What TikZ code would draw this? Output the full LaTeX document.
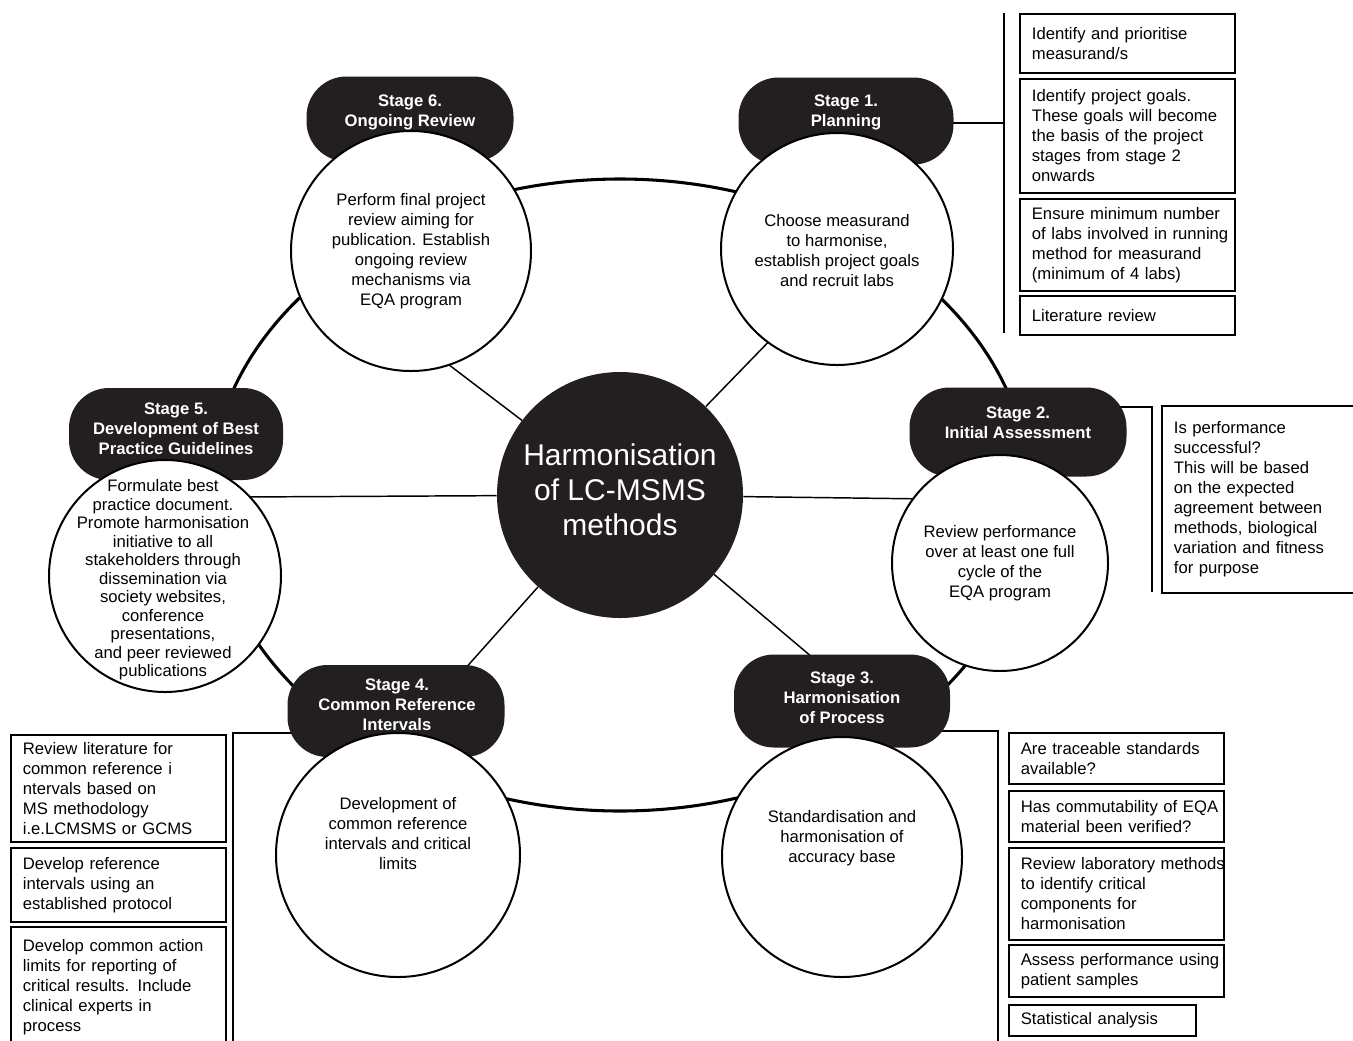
\documentclass[tikz,border=0pt]{standalone}
\usepackage{fontspec}
\setmainfont{Liberation Sans}
\usetikzlibrary{backgrounds}
\definecolor{ink}{RGB}{35,31,32}
\newdimen\px \px=0.75pt

\begin{document}
\begin{tikzpicture}[x=0.75pt, y=-0.75pt]
\tikzstyle{hub}=[circle, fill=ink, inner sep=0pt]
\tikzstyle{hubtext}=[text=white, align=center, inner sep=0pt, font=\fontsize{22.5}{26.25}\selectfont]
\tikzstyle{stage}=[draw, circle, fill=white, line width=1.5pt, inner sep=0pt]
\tikzstyle{blob}=[rectangle, fill=ink, rounded corners=30pt, inner sep=0pt]
\tikzstyle{blobtext}=[text=white, align=center, inner sep=0pt, font=\bfseries\fontsize{12.5}{15}\selectfont]
\tikzstyle{circtext}=[align=center, inner sep=0pt, font=\fontsize{12.5}{15}\selectfont]
\tikzstyle{infobox}=[draw, line width=1.3pt, anchor=north west, align=left, inner xsep=12\px, inner ysep=0pt, font=\fontsize{12.5}{15}\selectfont]
\tikzstyle{bracket}=[line width=1.4pt]
\tikzstyle{spoke}=[line width=1.1pt]
\tikzstyle{ring}=[line width=2.3pt]

\useasboundingbox (0,0) rectangle (1353,1040);
\clip (0,0) rectangle (1353,1040);

\draw (620,495) node[hub, minimum size=246\px] (hub) {};
\draw (620,490) node[hubtext] (ht) {Harmonisation\\of LC-MSMS\\methods};

% dark stage labels
\draw (846,121) node[blob, minimum width=215\px, minimum height=87\px] (b1) {};
\draw (1018,432) node[blob, minimum width=217\px, minimum height=89\px] (b2) {};
\draw (842,701) node[blob, minimum width=216\px, minimum height=93\px] (b3) {};
\draw (396,711) node[blob, minimum width=217\px, minimum height=92\px] (b4) {};
\draw (176,434) node[blob, minimum width=214\px, minimum height=92\px] (b5) {};
\draw (410,119) node[blob, minimum width=207\px, minimum height=85\px] (b6) {};

\draw (846,112) node[blobtext] (s1) {Stage 1.\\Planning};
\draw (1018,423) node[blobtext] (s2) {Stage 2.\\Initial Assessment};
\draw (842,698) node[blobtext] (s3) {Stage 3.\\Harmonisation\\of Process};
\draw (397,705) node[blobtext] (s4) {Stage 4.\\Common Reference\\Intervals};
\draw (176,429) node[blobtext] (s5) {Stage 5.\\Development of Best\\Practice Guidelines};
\draw (410,112) node[blobtext] (s6) {Stage 6.\\Ongoing Review};

% stage circles
\draw (837,249) node[stage, minimum size=232\px] (c1) {};
\draw (1000,563) node[stage, minimum size=216\px] (c2) {};
\draw (842,857) node[stage, minimum size=240\px] (c3) {};
\draw (398,855) node[stage, minimum size=244\px] (c4) {};
\draw (165,576) node[stage, minimum size=232\px] (c5) {};
\draw (411,251) node[stage, minimum size=240\px] (c6) {};

\draw (837,251) node[circtext] (t1) {Choose measurand\\to harmonise,\\establish project goals\\and recruit labs};
\draw (1000,563) node[circtext] (t2) {Review performance\\over at least one full\\cycle of the\\EQA program};
\draw (842,838) node[circtext] (t3) {Standardisation and\\harmonisation of\\accuracy base};
\draw (398,834) node[circtext] (t4) {Development of\\common reference\\intervals and critical\\limits};
\draw (163,580) node[circtext, font=\fontsize{12.5}{13.9}\selectfont] (t5) {Formulate best\\practice document.\\Promote harmonisation\\initiative to all\\stakeholders through\\dissemination via\\society websites,\\conference\\presentations,\\and peer reviewed\\publications};
\draw (411,251) node[circtext] (t6) {Perform final project\\review aiming for\\publication. Establish\\ongoing review\\mechanisms via\\EQA program};

% stage 1 notes
\draw (1019,13) node[infobox, text width=191\px, minimum height=59\px] (n1a) {Identify and prioritise\\measurand/s};
\draw (1019,78) node[infobox, text width=191\px, minimum height=114\px] (n1b) {Identify project goals.\\These goals will become\\the basis of the project\\stages from stage 2\\onwards};
\draw (1019,198) node[infobox, text width=191\px, minimum height=92\px] (n1c) {\mbox{Ensure minimum number}\\\mbox{of labs involved in running}\\method for measurand\\(minimum of 4 labs)};
\draw (1019,295) node[infobox, text width=191\px, minimum height=39\px] (n1d) {Literature review};

% stage 2 notes
\draw (1161,405) node[infobox, text width=175\px, minimum height=187\px] (n2) {Is performance\\successful?\\This will be based\\on the expected\\agreement between\\methods, biological\\variation and fitness\\for purpose};

% stage 3 notes
\draw (1008,732) node[infobox, text width=191\px, minimum height=51\px] (n3a) {Are traceable standards\\available?};
\draw (1008,790) node[infobox, text width=191\px, minimum height=51\px] (n3b) {\mbox{Has commutability of EQA}\\material been verified?};
\draw (1008,847) node[infobox, text width=191\px, minimum height=92\px] (n3c) {\mbox{Review laboratory methods}\\to identify critical\\components for\\harmonisation};
\draw (1008,944) node[infobox, text width=191\px, minimum height=52\px] (n3d) {\mbox{Assess performance using}\\patient samples};
\draw (1008,1004) node[infobox, text width=163\px, minimum height=31\px] (n3e) {Statistical analysis};

% stage 4 notes
\draw (10,734) node[infobox, text width=191\px, minimum height=107\px] (n4a) {Review literature for\\common reference i\\ntervals based on\\MS methodology\\i.e.LCMSMS or GCMS};
\draw (10,847) node[infobox, text width=191\px, minimum height=74\px] (n4b) {Develop reference\\intervals using an\\established protocol};
\draw (10,926) node[infobox, text width=191\px, minimum height=120\px] (n4c) {Develop common action\\limits for reporting of\\critical results. Include\\clinical experts in\\process};

\begin{scope}[on background layer]
% ring through the stages
\draw[ring] (620,495) ellipse [x radius=410, y radius=316];

% spokes
\coordinate (e1) at (780,330);
\coordinate (e2) at (930,499);
\coordinate (e3) at (825,668);
\coordinate (e4) at (455,680);
\coordinate (e5) at (240,497);
\coordinate (e6) at (440,358);
\draw[spoke] (hub) -- (e1);
\draw[spoke] (hub) -- (e2);
\draw[spoke] (hub) -- (e3);
\draw[spoke] (hub) -- (e4);
\draw[spoke] (hub) -- (e5);
\draw[spoke] (hub) -- (e6);

% brackets to the notes
\coordinate (k1) at (1004,123);
\coordinate (k1a) at (1004,13);
\coordinate (k1b) at (1004,333);
\draw[bracket] (b1.center |- k1) -- (k1);
\draw[bracket] (k1a) -- (k1b);
\coordinate (k2) at (1152,407);
\coordinate (k2b) at (1152,592);
\draw[bracket] (b2.center |- k2) -- (k2) -- (k2b);
\coordinate (k3) at (998,731);
\coordinate (k3b) at (998,1045);
\draw[bracket] (b3.center |- k3) -- (k3) -- (k3b);
\coordinate (k4) at (233,733);
\coordinate (k4b) at (233,1045);
\draw[bracket] (b4.center |- k4) -- (k4) -- (k4b);
\end{scope}
\end{tikzpicture}
\end{document}
